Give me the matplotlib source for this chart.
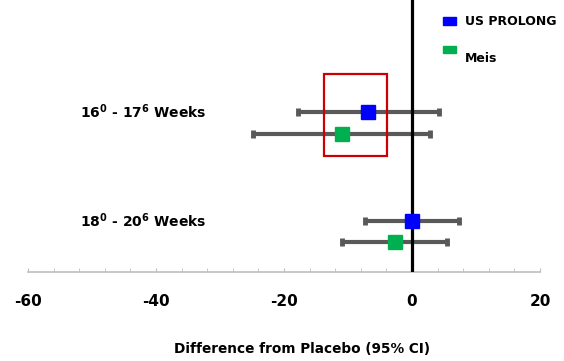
import matplotlib.pyplot as plt
from matplotlib.patches import Rectangle

plt.rcParams["mathtext.default"] = "bf"

# data
groups = [r"16$^{0}$ - 17$^{6}$ Weeks", r"18$^{0}$ - 20$^{6}$ Weeks"]
studies = ["US PROLONG", "Meis"]
colors = ["#0000FF", "#00B050"]
diff = {"US PROLONG": [-6.8, 0.0], "Meis": [-11.0, -2.7]}
lower = {"US PROLONG": [-17.8, -7.4], "Meis": [-24.8, -10.9]}
upper = {"US PROLONG": [4.2, 7.4], "Meis": [2.8, 5.4]}

group_y = [5.48, 1.49]
offset = 0.4
xticks = [-60, -40, -20, 0, 20]

fig = plt.figure(figsize=(5.64, 3.61), dpi=100)
ax = fig.add_axes([28 / 564, 89 / 361, 512 / 564, 272 / 361])

for i, study in enumerate(studies):
    ys = [g + offset - 2 * offset * i for g in group_y]
    xs = diff[study]
    xerr = [[x - lo for x, lo in zip(xs, lower[study])],
            [hi - x for x, hi in zip(xs, upper[study])]]
    ax.errorbar(xs, ys, xerr=xerr, fmt="none", ecolor="#595959",
                elinewidth=3, capsize=2.8, capthick=3.5, zorder=2)
    ax.plot(xs, ys, "s", color=colors[i], markersize=10, zorder=4)

ax.axvline(0, color="black", linewidth=2.3, zorder=3)

# highlight box
ax.add_patch(Rectangle((-13.8, 4.28), 9.9, 2.99, fill=False,
                       edgecolor="#CC0000", linewidth=1.6, zorder=5))

for g, label in zip(group_y, groups):
    ax.text(-51.8, g + offset, label, fontsize=10, fontweight="bold",
            va="center", ha="left")

ax.set_xlim(-60, 20)
ax.set_ylim(0, 10)
ax.set_xticks(xticks)
ax.set_xticklabels([str(t) for t in xticks], fontsize=11, fontweight="bold")
ax.set_xticks(range(-60, 21, 4), minor=True)
ax.set_yticks([])
for s in ["left", "right", "top"]:
    ax.spines[s].set_visible(False)
ax.spines["bottom"].set_color("#BFBFBF")
ax.spines["bottom"].set_linewidth(1.2)
ax.tick_params(axis="x", which="both", direction="in", length=3,
               color="#BFBFBF", pad=16)

# legend
for i, study in enumerate(studies):
    yc = [21, 49.5][i]
    fig.patches.append(Rectangle((443 / 564, (361 - yc - 3.5) / 361),
                                 13 / 564, 7 / 361, color=colors[i],
                                 transform=fig.transFigure, figure=fig))
    ty = [21.5, 58][i]
    fig.text(465 / 564, (361 - ty) / 361, study, fontsize=9,
             fontweight="bold", va="center", ha="left")

fig.text(302 / 564, 12 / 361, "Difference from Placebo (95% CI)",
         fontsize=9.8, fontweight="bold", ha="center", va="center")

fig.savefig("out.png", dpi=100)
